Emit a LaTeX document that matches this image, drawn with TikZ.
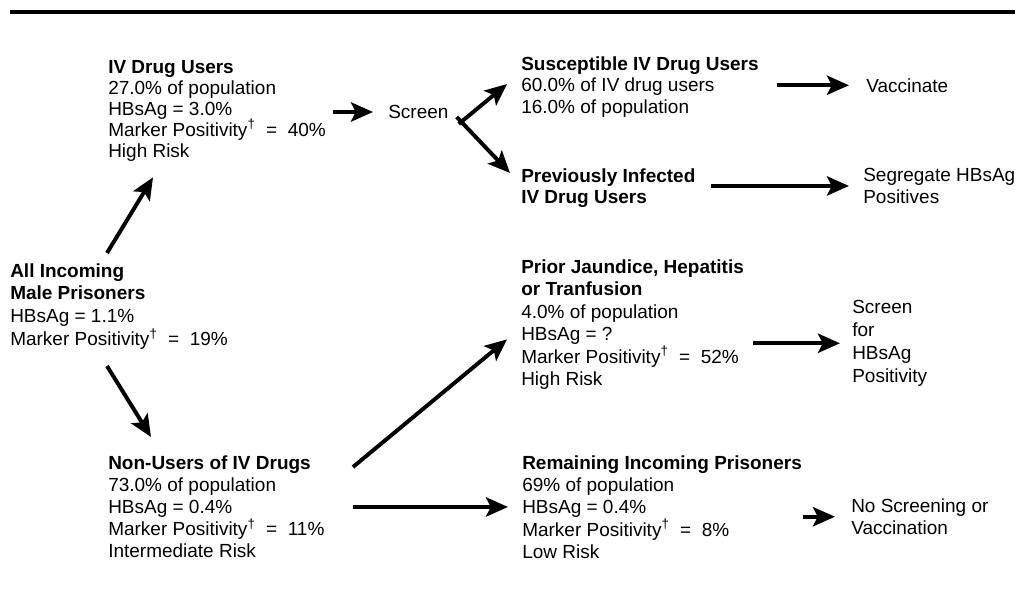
\documentclass[tikz,border=0pt]{standalone}
\usepackage{fontspec}
\setmainfont{Liberation Sans}
\usetikzlibrary{arrows.meta}

\tikzset{
    txt/.style={anchor=north west, inner sep=0pt, align=left,
        font=\fontsize{13.5}{#1}\selectfont},
    txt/.default=15.6pt,
    arr/.style={-{Stealth[length=0.55cm, width=0.48cm, inset=0.12cm]},
        line width=2.8pt}
}
\newcommand{\mpos}{Marker Positivity\textsuperscript{\textdagger}}

\begin{document}
\begin{tikzpicture}[x=0.025cm, y=-0.025cm]
\useasboundingbox (0,0) rectangle (1019,616);

% Rule
\draw[line width=2.8pt] (10,12) -- (1015,12);

% Left column
\node[txt=16.3pt] (all) at (10,263) {\textbf{All Incoming}\\ \textbf{Male Prisoners}\\ HBsAg = 1.1\%\\ \mpos\ \ =\ \ 19\%};
\node[txt=14.9pt] (ivu) at (108,60) {\textbf{IV Drug Users}\\ 27.0\% of population\\ HBsAg = 3.0\%\\ \mpos\ \ =\ \ 40\%\\ High Risk};
\node[txt=15.8pt] (non) at (108,455) {\textbf{Non-Users of IV Drugs}\\ 73.0\% of population\\ HBsAg = 0.4\%\\ \mpos\ \ =\ \ 11\%\\ Intermediate Risk};
\node[txt] (scr) at (388,105) {Screen};

% Middle column
\node[txt] (sus) at (521,56) {\textbf{Susceptible IV Drug Users}\\ 60.0\% of IV drug users\\ 16.0\% of population};
\node[txt] (prev) at (521,168) {\textbf{Previously Infected}\\ \textbf{IV Drug Users}};
\node[txt=16pt] (prior) at (521,259) {\textbf{Prior Jaundice, Hepatitis}\\ \textbf{or Tranfusion}\\ 4.0\% of population\\ HBsAg = ?\\ \mpos\ \ =\ \ 52\%\\ High Risk};
\node[txt=15.9pt] (rem) at (522,455) {\textbf{Remaining Incoming Prisoners}\\ 69\% of population\\ HBsAg = 0.4\%\\ \mpos\ \ =\ \ 8\%\\ Low Risk};

% Right column
\node[txt] (vac) at (866,78) {Vaccinate};
\node[txt] (seg) at (863,168) {Segregate HBsAg\\ Positives};
\node[txt=16.3pt] (sfor) at (852,300) {Screen\\ for\\ HBsAg\\ Positivity};
\node[txt=16.3pt] (nos) at (851,498) {No Screening or\\ Vaccination};

% Arrows
\draw[arr] ([shift={(97,-10)}]all.north west) -- ([shift={(45,16)}]ivu.south west);
\draw[arr] ([shift={(97,16)}]all.south west) -- ([shift={(43,-18)}]non.north west);
\draw[arr] (scr.west -| ivu.east) ++(7,0) -- ([shift={(-15,0)}]scr.west);
\draw[arr] ([shift={(10,12)}]scr.east) -- ([shift={(-14,-3)}]sus.west);
\draw[arr] ([shift={(8,5)}]scr.east) -- ([shift={(-11,5)}]prev.north west);
\draw[arr] (vac.west -| sus.east) ++(18,0) -- ([shift={(-17,0)}]vac.west);
\draw[arr] (seg.west -| prev.east) ++(15,0) -- ([shift={(-14,0)}]seg.west);
\draw[arr] ([shift={(245,12)}]non.north west) -- ([shift={(-14,15)}]prior.west);
\draw[arr] (rem.west -| non.east) ++(28,0) -- ([shift={(-14,0)}]rem.west);
\draw[arr] (sfor.west -| prior.east) ++(9,0) -- ([shift={(-12,0)}]sfor.west);
\draw[arr] (nos.west -| rem.east) ++(1,0) -- ([shift={(-16,0)}]nos.west);

\end{tikzpicture}
\end{document}
